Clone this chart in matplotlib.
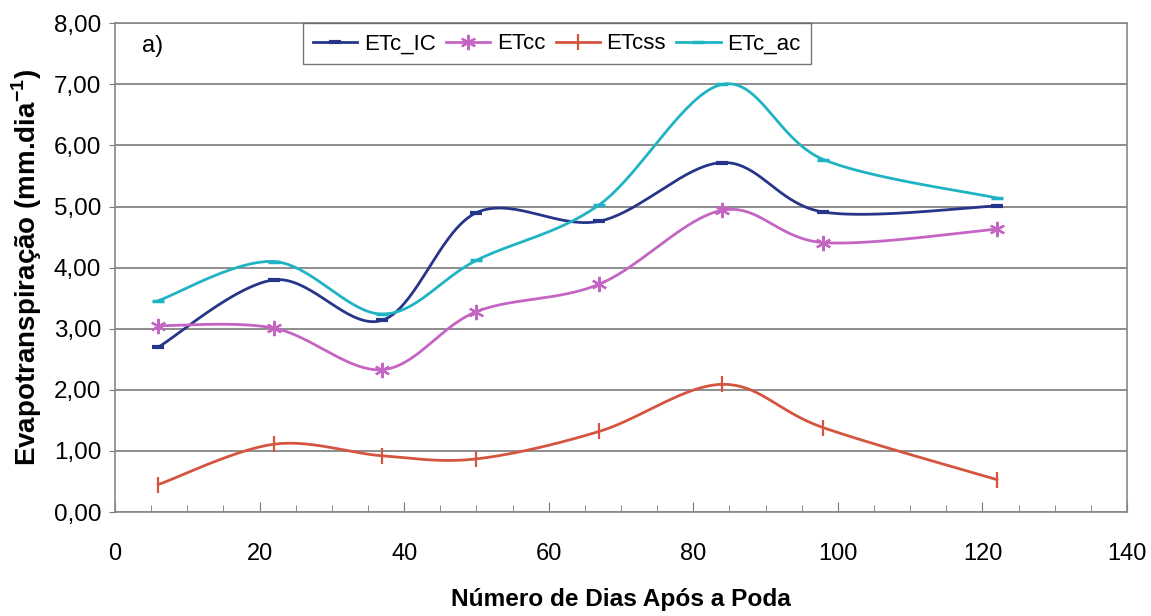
import numpy as np
import matplotlib
matplotlib.use("Agg")
import matplotlib.pyplot as plt
from matplotlib.ticker import MultipleLocator, FuncFormatter

plt.rcParams['font.family'] = ['Liberation Sans', 'DejaVu Sans']

dias = [6, 22, 37, 50, 67, 84, 98, 122]
etc_ic = [2.70, 3.80, 3.14, 4.90, 4.76, 5.72, 4.91, 5.01]
etcc = [3.05, 3.01, 2.33, 3.28, 3.73, 4.94, 4.41, 4.63]
etcss = [0.45, 1.11, 0.92, 0.87, 1.32, 2.09, 1.38, 0.53]
etc_ac = [3.46, 4.10, 3.24, 4.12, 5.03, 7.00, 5.77, 5.14]

series_names = ["ETc_IC", "ETcc", "ETcss", "ETc_ac"]
xticks = [0, 20, 40, 60, 80, 100, 120, 140]
yticks = [0, 1, 2, 3, 4, 5, 6, 7, 8]


def smooth(xs, ys, n=40):
    """Excel-like smoothed line: Bezier with Catmull-Rom control points."""
    P = np.column_stack([xs, ys]).astype(float)
    out = []
    m = len(P)
    for i in range(m - 1):
        p0 = P[i - 1] if i > 0 else P[i]
        p1 = P[i]
        p2 = P[i + 1]
        p3 = P[i + 2] if i + 2 < m else P[i + 1]
        c1 = p1 + (p2 - p0) / 6.0
        c2 = p2 - (p3 - p1) / 6.0
        t = np.linspace(0, 1, n)[:, None]
        seg = ((1 - t) ** 3) * p1 + 3 * ((1 - t) ** 2) * t * c1 + 3 * (1 - t) * t ** 2 * c2 + t ** 3 * p2
        out.append(seg if i == 0 else seg[1:])
    arr = np.vstack(out)
    return arr[:, 0], arr[:, 1]


fig = plt.figure(figsize=(11.51, 6.16), dpi=100)
ax = fig.add_axes([0.0999, 0.1688, 0.8793, 0.7934])

styles = [
    dict(color="#25358a", marker="_", ms=9, mew=3.0),
    dict(color="#c465c4", marker=(6, 2, 0), ms=11, mew=1.6),
    dict(color="#d4553f", marker="|", ms=12, mew=1.6),
    dict(color="#1fb3c4", marker="_", ms=8, mew=2.5),
]

for name, ys, st in zip(series_names, [etc_ic, etcc, etcss, etc_ac], styles):
    sx, sy = smooth(dias, ys)
    ax.plot(sx, sy, color=st["color"], lw=2.0, zorder=3)
    ax.plot(dias, ys, linestyle="none", marker=st["marker"], ms=st["ms"],
            mew=st["mew"], color=st["color"], zorder=4)
    ax.plot([], [], color=st["color"], lw=2.0, marker=st["marker"], ms=st["ms"],
            mew=st["mew"], label=name)

ax.set_xlim(0, 140)
ax.set_ylim(0, 8)
ax.set_xticks(xticks)
ax.set_yticks(yticks)
ax.xaxis.set_minor_locator(MultipleLocator(5))
ax.yaxis.set_major_formatter(FuncFormatter(lambda v, p: f"{v:.2f}".replace(".", ",")))
ax.tick_params(axis="x", which="major", direction="in", length=7, color="#777777",
               labelsize=17, pad=22)
ax.tick_params(axis="x", which="minor", direction="in", length=5, color="#777777")
ax.tick_params(axis="y", direction="out", length=4, color="#777777", labelsize=17.5, pad=6)

ax.grid(axis="y", color="#7a7a7a", lw=1.2)
ax.set_axisbelow(True)
for s in ax.spines.values():
    s.set_color("#888888")
    s.set_linewidth(1.2)

ax.set_ylabel("Evapotranspiração (mm.dia$^{\\mathregular{-1}}$)", fontsize=20,
              fontweight="bold", labelpad=7)
ax.set_xlabel("Número de Dias Após a Poda", fontsize=17.6, fontweight="bold", labelpad=17)

ax.text(3.7, 7.63, "a)", fontsize=17, va="center", ha="left")

leg = ax.legend(loc="upper left", bbox_to_anchor=(0.1858, 1.0), ncol=4, fontsize=16,
                frameon=True, fancybox=False, handlelength=2.0, handletextpad=0.3,
                columnspacing=0.45, borderpad=0.45, borderaxespad=0.0)
leg.get_frame().set_edgecolor("#555555")
leg.get_frame().set_linewidth(1.0)

fig.savefig("out.png", dpi=100)
